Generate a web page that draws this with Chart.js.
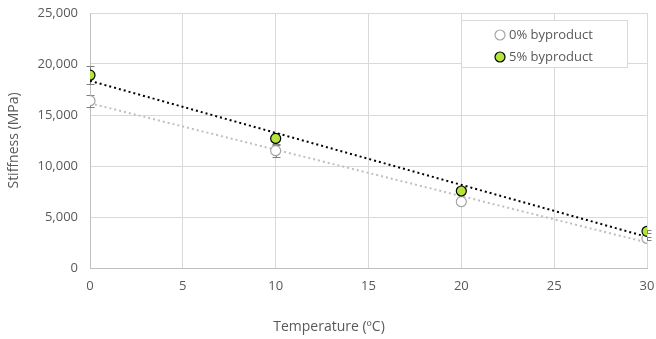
<!DOCTYPE html>
<html>
<head>
<meta charset="utf-8">
<script src="https://cdn.jsdelivr.net/npm/chart.js@4.4.1/dist/chart.umd.min.js"></script>
<style>
  html, body { margin: 0; padding: 0; background: #fff; }
  #wrap { width: 656px; height: 339px; }
</style>
</head>
<body>
<div id="wrap"><canvas id="chart" width="656" height="339"></canvas></div>
<script>
'use strict';

// values
const temps = [0, 10, 20, 30];
const stiff0 = [16400, 11500, 6500, 2900];
const stiff5 = [18900, 12700, 7550, 3600];
const err0 = [600, 600, 250, 150];
const err5 = [900, 500, 250, 150];
const trendX = [0, 30];
const trend0 = [16150, 2500];
const trend5 = [18350, 3050];
const labels = ['0% byproduct', '5% byproduct'];
const xTitle = 'Temperature (ºC)';

const txt = '#595959';
const fam = "'Open Sans', sans-serif";
const font = { family: fam, size: 13 };

const toPts = (xs, ys) => xs.map((x, i) => ({ x: x, y: ys[i] }));

// error bars drawn through the chart scales
const errorBars = {
  id: 'errorBars',
  beforeDatasetsDraw(chart) {
    const ctx = chart.ctx;
    const xs = chart.scales.x, ys = chart.scales.y;
    const sets = [[stiff0, err0], [stiff5, err5]];
    ctx.save();
    ctx.strokeStyle = '#7f7f7f';
    ctx.lineWidth = 1;
    sets.forEach(([vals, errs]) => {
      temps.forEach((t, i) => {
        const px = Math.round(xs.getPixelForValue(t)) + 0.5;
        const top = Math.round(ys.getPixelForValue(vals[i] + errs[i])) + 0.5;
        const bot = Math.round(ys.getPixelForValue(vals[i] - errs[i])) + 0.5;
        ctx.beginPath();
        ctx.moveTo(px, top); ctx.lineTo(px, bot);
        ctx.moveTo(px - 4, top); ctx.lineTo(px + 4, top);
        ctx.moveTo(px - 4, bot); ctx.lineTo(px + 4, bot);
        ctx.stroke();
      });
    });
    ctx.restore();
  }
};

// boxed legend inside the plot area + x axis title (Excel puts it a bit left of centre)
const boxLegend = {
  id: 'boxLegend',
  afterDraw(chart) {
    const ctx = chart.ctx;
    const x = 461.5, y = 20.5, w = 166, h = 47;
    ctx.save();
    ctx.fillStyle = '#fff';
    ctx.fillRect(x, y, w, h);
    ctx.strokeStyle = '#d9d9d9';
    ctx.lineWidth = 1;
    ctx.strokeRect(x, y, w, h);
    const items = [
      { text: labels[0], fill: '#ffffff', stroke: '#a6a6a6', cy: 35 },
      { text: labels[1], fill: '#b3e53c', stroke: '#000000', cy: 57 }
    ];
    ctx.font = '13px ' + fam;
    ctx.textBaseline = 'middle';
    items.forEach(it => {
      ctx.beginPath();
      ctx.arc(500, it.cy, 5, 0, Math.PI * 2);
      ctx.fillStyle = it.fill;
      ctx.fill();
      ctx.lineWidth = 1.2;
      ctx.strokeStyle = it.stroke;
      ctx.stroke();
      ctx.fillStyle = txt;
      ctx.fillText(it.text, 509, it.cy);
    });

    ctx.font = '14px ' + fam;
    ctx.textAlign = 'center';
    ctx.fillStyle = txt;
    ctx.fillText(xTitle, 329, 327);
    ctx.restore();
  }
};

new Chart(document.getElementById('chart').getContext('2d'), {
  type: 'scatter',
  data: {
    datasets: [
      {
        label: 'trend 0%',
        data: toPts(trendX, trend0),
        showLine: true,
        borderColor: '#bfbfbf',
        borderWidth: 2,
        borderDash: [2, 3],
        pointRadius: 0,
        order: 3
      },
      {
        label: 'trend 5%',
        data: toPts(trendX, trend5),
        showLine: true,
        borderColor: '#000000',
        borderWidth: 2,
        borderDash: [2, 3],
        pointRadius: 0,
        order: 2
      },
      {
        label: labels[0],
        data: toPts(temps, stiff0),
        backgroundColor: '#ffffff',
        borderColor: '#a6a6a6',
        borderWidth: 1.2,
        pointRadius: 5,
        order: 1
      },
      {
        label: labels[1],
        data: toPts(temps, stiff5),
        backgroundColor: '#b3e53c',
        borderColor: '#000000',
        borderWidth: 1.2,
        pointRadius: 5,
        order: 0
      }
    ]
  },
  options: {
    responsive: false,
    animation: false,
    layout: { padding: { top: 13, right: 9, left: 0, bottom: 0 } },
    plugins: {
      legend: { display: false },
      tooltip: { enabled: false }
    },
    scales: {
      x: {
        type: 'linear',
        min: 0,
        max: 30,
        ticks: { stepSize: 5, color: txt, font: font, padding: 10 },
        grid: { color: '#d9d9d9', drawTicks: false },
        border: { color: '#bfbfbf' },
        afterFit(axis) {
          axis.height = 71;
          axis.paddingLeft = 0;
          axis.paddingRight = 0;
        }
      },
      y: {
        min: 0,
        max: 25000,
        ticks: {
          stepSize: 5000,
          color: txt,
          font: font,
          padding: 12,
          callback: v => v.toLocaleString('en-US')
        },
        grid: { color: '#d9d9d9', drawTicks: false },
        border: { color: '#bfbfbf' },
        title: {
          display: true,
          text: 'Stiffness (MPa)',
          color: txt,
          font: { family: fam, size: 14 },
          padding: { top: 6, bottom: 0 }
        },
        afterFit(axis) {
          axis.width = 90;
          axis.paddingTop = 0;
          axis.paddingBottom = 0;
        }
      }
    }
  },
  plugins: [errorBars, boxLegend]
});
</script>
</body>
</html>
